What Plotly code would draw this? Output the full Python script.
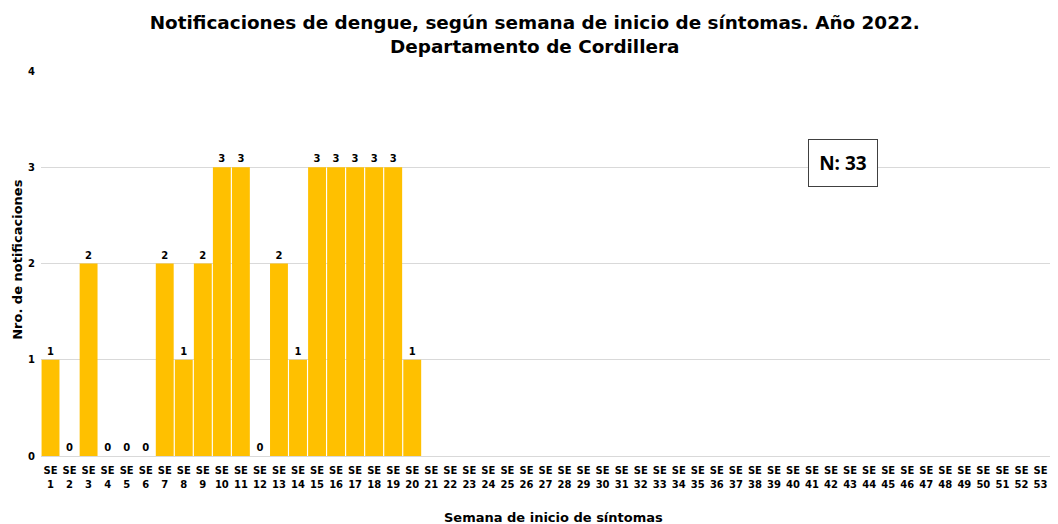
import plotly.graph_objects as go

week_nums = [str(i) for i in range(1, 54)]
week_prefix = ["SE"] * 53
counts = [1, 0, 2, 0, 0, 0, 2, 1, 2, 3, 3, 0, 2, 1, 3, 3, 3, 3, 3, 1] + [None] * 33
title = "Notificaciones de dengue, según semana de inicio de síntomas. Año 2022.<br>Departamento de Cordillera"
total_label = "N: 33"
x_title = "Semana de inicio de síntomas"
y_title = "Nro. de notificaciones"

fnt = "DejaVu Sans"
pos = list(range(53))

fig = go.Figure(go.Bar(
    x=pos, y=counts,
    marker=dict(color="#FFC000", line=dict(width=0)),
    text=[("" if v is None else str(v)) for v in counts],
    textposition="outside",
    textfont=dict(family=fnt, size=10, color="#000000", weight="bold"),
    cliponaxis=False,
))

# the page shows the figure from (8, 8) with a visible width of 1042 px
W, H = 1042, 516
fig.update_layout(
    width=W, height=H,
    margin=dict(l=33, r=0, t=63, b=68, autoexpand=False),
    paper_bgcolor="white", plot_bgcolor="white",
    bargap=0.06,
    showlegend=False,
    title=dict(text="<b>" + title + "</b>", x=0.5055, xanchor="center", y=0.960, yanchor="top",
               font=dict(family=fnt, size=18.4, color="#000000")),
    xaxis=dict(
        tickmode="array", tickvals=pos, ticktext=week_prefix,
        range=[-0.5, 52.5], automargin=False,
        tickfont=dict(family=fnt, size=10, color="#000000", weight="bold"),
        showgrid=False, showline=True, linecolor="#d9d9d9", linewidth=1,
        ticks="", tickangle=0, ticklabelstandoff=5,
    ),
    xaxis2=dict(
        overlaying="x", matches="x", anchor="y", side="bottom",
        tickmode="array", tickvals=pos, ticktext=week_nums,
        range=[-0.5, 52.5], automargin=False,
        tickfont=dict(family=fnt, size=10, color="#000000", weight="bold"),
        showgrid=False, showline=False, zeroline=False,
        ticks="", tickangle=0, ticklabelstandoff=21,
    ),
    yaxis=dict(
        range=[0, 4], dtick=1, tick0=0, automargin=False,
        tickfont=dict(family=fnt, size=10, color="#000000", weight="bold"),
        showgrid=True, gridcolor="#d9d9d9", gridwidth=1,
        zeroline=False, showline=False, ticks="", ticklabelstandoff=5,
    ),
    annotations=[
        dict(text="<b>" + total_label + "</b>", xref="paper", yref="paper",
             x=0.795, y=0.761, xanchor="center", yanchor="middle", showarrow=False,
             font=dict(family="Open Sans", size=19, color="#000000"),
             bordercolor="#404040", borderwidth=1, borderpad=9, bgcolor="white",
             width=50, height=28),
        dict(text="<b>" + x_title + "</b>", xref="paper", yref="paper",
             x=0.508, y=-0.161, xanchor="center", yanchor="middle", showarrow=False,
             font=dict(family=fnt, size=13, color="#000000")),
        dict(text="<b>" + y_title + "</b>", xref="paper", yref="paper",
             x=-0.0236, y=0.51, xanchor="center", yanchor="middle", showarrow=False,
             textangle=-90,
             font=dict(family=fnt, size=13, color="#000000")),
    ],
)
fig.add_trace(go.Scatter(x=pos, y=[None] * 53, xaxis="x2", yaxis="y",
                         mode="markers", hoverinfo="skip", showlegend=False))

fig.write_html("out.html")
